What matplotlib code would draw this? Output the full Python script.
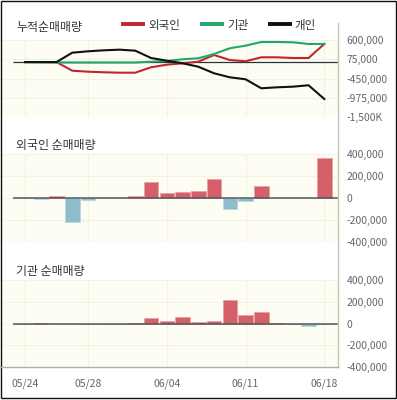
import numpy as np
import matplotlib.pyplot as plt
from matplotlib.patches import Rectangle

plt.rcParams['font.family'] = ['Noto Sans CJK KR', 'DejaVu Sans']

# 날짜 (거래일)
dates = ['05/24', '05/25', '05/26', '05/27', '05/28', '05/31', '06/01', '06/02', '06/03', '06/04',
         '06/07', '06/08', '06/09', '06/10', '06/11', '06/14', '06/15', '06/16', '06/17', '06/18']
tick_dates = ['05/24', '05/28', '06/04', '06/11', '06/18']

# 누적 순매매량
foreign_cum = [0, 0, 0, -234000, -261000, -277000, -288000, -288000, -141000, -71000,
               -33000, 11000, 193000, 57000, 22000, 130000, 130000, 111000, 111000, 492000]
inst_cum = [0, -5000, -10000, -12000, -12000, -12000, -12000, -12000, 11000, 30000,
            76000, 103000, 220000, 375000, 446000, 546000, 546000, 538000, 492000, 492000]
indiv_cum = [0, 0, 0, 255000, 293000, 320000, 337000, 310000, 111000, 38000,
             -33000, -125000, -304000, -413000, -467000, -712000, -685000, -668000, -630000, -1002000]

# 일별 순매매량
foreign_daily = [-3000, -5000, 18000, -217000, -15000, -3000, -3000, 15000, 150000, 46000,
                 58000, 62000, 174000, -101000, -24000, 107000, -3000, -3000, -3000, 367000]
inst_daily = [0, 5000, -5000, -5000, 0, 0, 0, 5000, 50000, 19000,
              62000, 12000, 22000, 217000, 78000, 109000, 9000, 0, -25000, 0]

top_ticks = [600000, 75000, -450000, -975000, -1500000]
top_labels = ['600,000', '75,000', '-450,000', '-975,000', '-1,500K']
bar_ticks = [400000, 200000, 0, -200000, -400000]
bar_labels = ['400,000', '200,000', '0', '-200,000', '-400,000']

W, H = 397, 400
x = np.arange(len(dates))
xlim = (-1.524, 19.87)
tick_pos = [dates.index(d) for d in tick_dates]

fig = plt.figure(figsize=(W / 100, H / 100), dpi=100)


def px_axes(left, top, right, bottom):
    return fig.add_axes([left / W, 1 - bottom / H, (right - left) / W, (bottom - top) / H])


def style(ax, yt, yl, ylim):
    ax.set_facecolor('#fdfdf4')
    ax.set_xlim(*xlim)
    ax.set_ylim(*ylim)
    for s in ax.spines.values():
        s.set_visible(False)
    ax.yaxis.tick_right()
    ax.set_yticks(yt)
    ax.set_yticklabels(yl, fontsize=7.5, color='#666666')
    ax.set_xticks(tick_pos)
    ax.set_xticklabels([])
    ax.tick_params(length=0, pad=6)
    ax.grid(True, color='#f2f2de', linewidth=0.8)
    ax.set_axisbelow(True)


# 누적순매매량
ax1 = px_axes(1, 40, 338, 117.3)
style(ax1, top_ticks, top_labels, (-1500000, 600000))
ax1.hlines(0, -0.76, xlim[1], color='#2c3440', linewidth=0.9, zorder=2)
l1, = ax1.plot(x, foreign_cum, color='#c0272d', linewidth=1.5, label='외국인', zorder=3)
l2, = ax1.plot(x, inst_cum, color='#1fa86a', linewidth=1.5, label='기관', zorder=3)
l3, = ax1.plot(x, indiv_cum, color='#111111', linewidth=1.5, label='개인', zorder=4)
leg = fig.legend(handles=[l1, l2, l3], loc='center left', bbox_to_anchor=(123 / W, 1 - 25 / H),
                 ncol=3, frameon=False, fontsize=8.3, handlelength=1.75, handletextpad=0.45,
                 columnspacing=1.85, borderpad=0, borderaxespad=0)
for h in leg.legend_handles:
    h.set_linewidth(2.8)
for t in leg.get_texts():
    t.set_color('#333333')


def bar_panel(ax, vals):
    style(ax, bar_ticks, bar_labels, (-400000, 400000))
    vals = np.array(vals)
    colors = np.where(vals >= 0, '#d6606a', '#8fbccb')
    edges = np.where(vals >= 0, '#ec9ea4', '#b9d6e0')
    ax.bar(x, vals, width=0.92, color=colors, edgecolor=edges, linewidth=0.6, zorder=2)
    ax.hlines(0, -0.76, xlim[1], color='#4f5860', linewidth=1.1, zorder=3)


ax2 = px_axes(1, 154, 338, 242.3)
bar_panel(ax2, foreign_daily)

ax3 = px_axes(1, 280, 338, 367)
bar_panel(ax3, inst_daily)
ax3.set_xticklabels(tick_dates, fontsize=7.5, color='#666666')
ax3.tick_params(axis='x', pad=8.5)

# 제목
fig.text(16 / W, 1 - 27 / H, '누적순매매량', fontsize=8.6, color='#333333', va='center')
fig.text(16 / W, 1 - 145 / H, '외국인 순매매량', fontsize=8.6, color='#333333', va='center')
fig.text(16 / W, 1 - 271 / H, '기관 순매매량', fontsize=8.6, color='#333333', va='center')

# 오른쪽 축선, 아래 축선, 테두리
fig.add_artist(plt.Line2D([338 / W, 338 / W], [1 - 23 / H, 1 - 367 / H], color='#c4c4b4',
                          linewidth=1.0, transform=fig.transFigure))
fig.add_artist(plt.Line2D([0, 338 / W], [1 - 367 / H, 1 - 367 / H], color='#b0b0a4',
                          linewidth=1.0, transform=fig.transFigure))
fig.add_artist(Rectangle((0.5 / W, 1 - 397.5 / H), 395 / W, 397 / H, fill=False,
                         edgecolor='#111111', linewidth=1.0, transform=fig.transFigure))

fig.savefig('out.png', dpi=100)
